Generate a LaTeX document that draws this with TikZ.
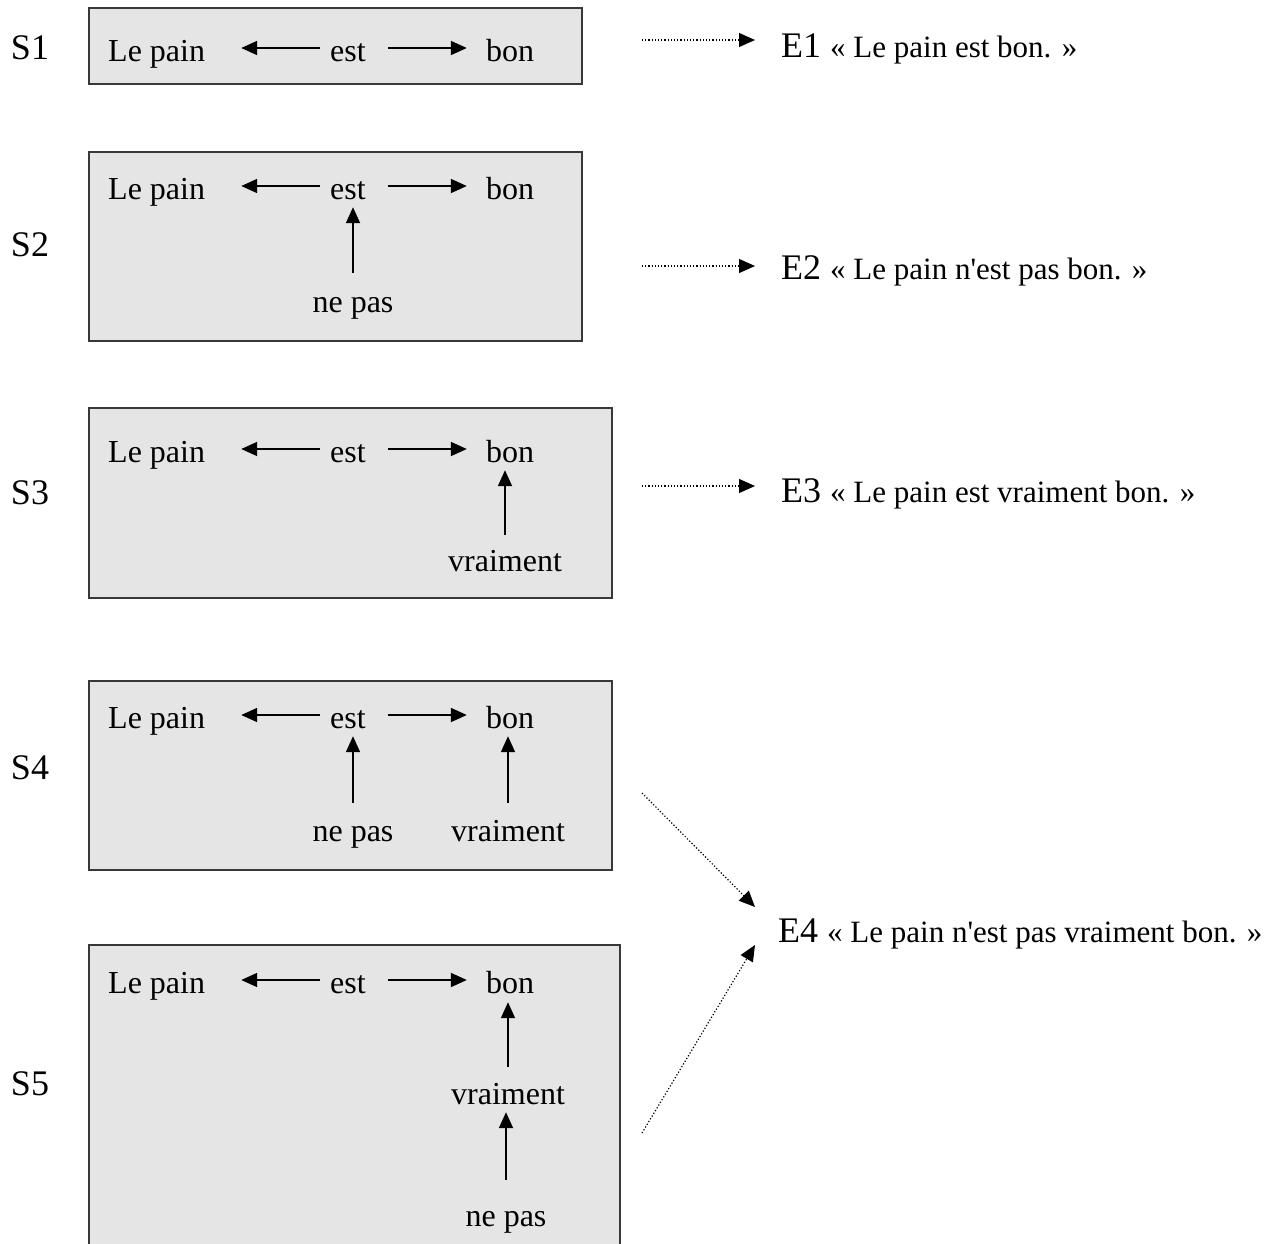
\documentclass[tikz,border=0pt]{standalone}
\usepackage{fontspec}
\setmainfont{Liberation Serif}[Ligatures=TeXOff]
\usetikzlibrary{arrows.meta,calc}
\newcommand\myrow[2]{%
  \node[wd, anchor=base west] (#1lp) at (108,#2) {Le pain};
  \node[wd] (#1est) at (348,#2) {est};
  \node[wd] (#1bon) at (510,#2) {bon};
  \draw[sol, shorten <=10pt, shorten >=36pt] (#1est.west) -- (#1lp.east);
  \draw[sol, shorten <=22pt, shorten >=19pt] (#1est.east) -- (#1bon.west);
}
\begin{document}
\begin{tikzpicture}[x=1pt,y=-1pt,
  box/.style={draw=black!78, line width=2pt, fill=black!10},
  wd/.style={font=\fontsize{32}{36}\selectfont, anchor=base, inner sep=0pt, text height=26pt, text depth=0pt},
  slab/.style={font=\fontsize{36}{40}\selectfont, anchor=base, inner sep=0pt},
  elab/.style={font=\fontsize{36}{40}\selectfont, anchor=base west, inner sep=0pt, text height=26pt, text depth=8pt},
  sol/.style={-{Triangle[length=16pt,width=14pt]}, line width=1.8pt},
  dot/.style={-{Triangle[length=16pt,width=14pt]}, line width=1.2pt, dotted}]
\useasboundingbox (0,0) rectangle (1288,1243);
\clip (0,0) rectangle (1288,1243);
\newcommand\qfont{\fontsize{31}{36}\selectfont}

% boxes
\draw[box] (89,8) rectangle (582,84);
\draw[box] (89,152) rectangle (582,341);
\draw[box] (89,408) rectangle (612,598);
\draw[box] (89,681) rectangle (612,870);
\draw[box] (89,945) rectangle (620,1262);

% S labels
\node[slab] (s1) at (30,59) {S1};
\node[slab] (s2) at (30,256) {S2};
\node[slab] (s3) at (30,504) {S3};
\node[slab] (s4) at (30,779) {S4};
\node[slab] (s5) at (30,1095) {S5};

% S1
\myrow{a}{61}
% S2
\myrow{b}{199}
\node[wd] (bnp) at (353,312) {ne pas};
\draw[sol, shorten <=13pt, shorten >=8pt] (bnp.north) -- (bnp.north |- best.south);
% S3
\myrow{c}{462}
\node[wd] (cvr) at (505,571) {vraiment};
\draw[sol, shorten <=10pt, shorten >=8pt] (cvr.north) -- (cvr.north |- cbon.south);
% S4
\myrow{d}{728}
\node[wd] (dnp) at (353,841) {ne pas};
\node[wd] (dvr) at (508,841) {vraiment};
\draw[sol, shorten <=12pt, shorten >=8pt] (dnp.north) -- (dnp.north |- dest.south);
\draw[sol, shorten <=12pt, shorten >=8pt] (dvr.north) -- (dvr.north |- dbon.south);
% S5
\myrow{e}{993}
\node[wd] (evr) at (508,1104) {vraiment};
\node[wd] (enp) at (506,1226) {ne pas};
\draw[sol, shorten <=11pt, shorten >=9pt] (evr.north) -- (evr.north |- ebon.south);
\draw[sol, shorten <=20pt, shorten >=8pt] (enp.north) -- (enp.north |- evr.south);

% E labels
\node[elab] (e1) at (781,57) {E1 {\qfont « Le pain est bon. »}};
\node[elab] (e2) at (781,279) {E2 {\qfont « Le pain n'est pas bon. »}};
\node[elab] (e3) at (781,502) {E3 {\qfont « Le pain est vraiment bon. »}};
\node[elab] (e4) at (778,942) {E4 {\qfont « Le pain n'est pas vraiment bon. »}};

% dotted arrows
\coordinate (d1) at (642,40);
\coordinate (d2) at (642,266);
\coordinate (d3) at (642,486);
\coordinate (d4) at (642,793);
\coordinate (d5) at (642,1133);
\draw[dot, shorten >=26pt] (d1) -- (d1 -| e1.west);
\draw[dot, shorten >=26pt] (d2) -- (d2 -| e2.west);
\draw[dot, shorten >=26pt] (d3) -- (d3 -| e3.west);
\draw[dot] (d4) -- ([shift={(-23,-26)}]e4.west);
\draw[dot] (d5) -- ([shift={(-23,12)}]e4.west);
\end{tikzpicture}
\end{document}
